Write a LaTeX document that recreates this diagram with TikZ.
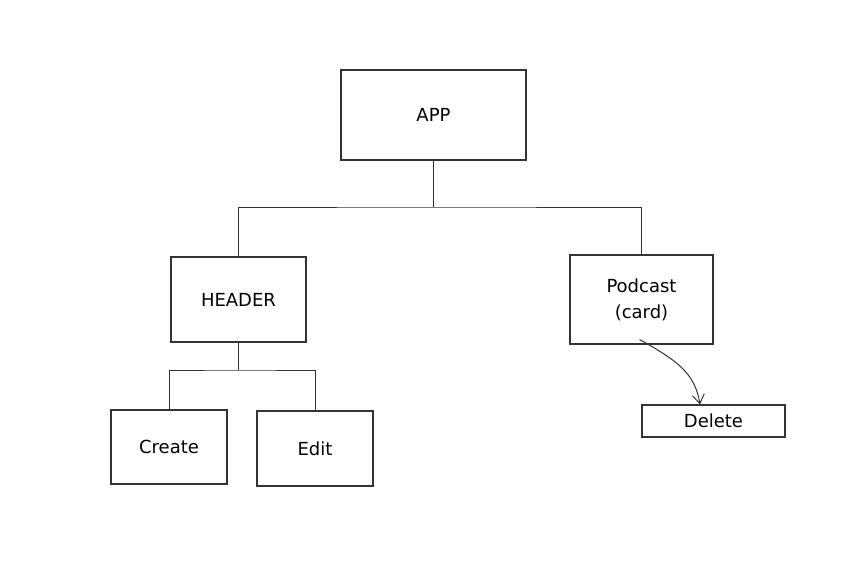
\documentclass[tikz,border=0pt]{standalone}
\usepackage{fontspec}
\setmainfont{DejaVu Sans}
\usetikzlibrary{arrows.meta}
\begin{document}
\begin{tikzpicture}[x=1pt,y=-1pt,
  box/.style={draw=black!80,line width=1.1pt,inner sep=0pt,align=center,font=\fontsize{18}{26}\selectfont},
  link/.style={draw=black!80,line width=1pt}]
\useasboundingbox[fill=white] (0,0) rectangle (851,565);
\node[box,minimum width=185pt,minimum height=90pt] (app) at (433.5,115) {APP};
\node[box,minimum width=135pt,minimum height=85pt] (header) at (238.5,299.5) {HEADER};
\node[box,minimum width=143pt,minimum height=89pt] (podcast) at (641.5,299.5) {Podcast\\(card)};
\node[box,minimum width=116pt,minimum height=74pt] (create) at (169,447) {Create};
\node[box,minimum width=116pt,minimum height=75pt] (edit) at (315,448.5) {Edit};
\node[box,minimum width=143pt,minimum height=32pt] (delete) at (713.5,421) {Delete};
\coordinate (j1) at (433.5,207);
\coordinate (j2) at (238.5,370);
\draw[link] (app.south) -- (j1);
\draw[link] (header.north) |- (j1) -| (podcast.north);
\draw[link] (header.south) -- (j2);
\draw[link] (create.north) |- (j2) -| (edit.north);
\draw[link,-{Straight Barb[length=9pt,width=12pt]}] ([xshift=-2pt,yshift=5pt]podcast.south) .. controls +(40,22) and +(-5,-30) .. ([xshift=-13.5pt]delete.north);
\end{tikzpicture}
\end{document}
